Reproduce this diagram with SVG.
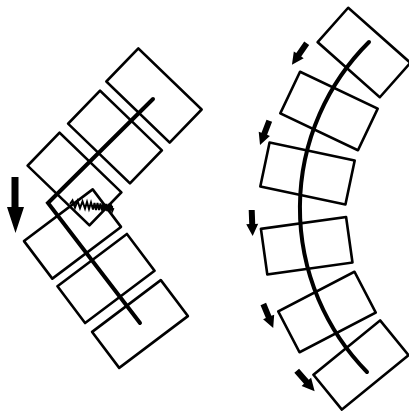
<svg xmlns="http://www.w3.org/2000/svg" width="409" height="412" viewBox="0 0 409 412">
<style>
.box{fill:none;stroke:#000;stroke-width:2.6;stroke-linejoin:round}
.spine{fill:none;stroke:#000;stroke-width:4;stroke-linecap:round;stroke-linejoin:miter}
.spring{fill:none;stroke:#000;stroke-width:2}
.arr{fill:#000}
</style>
<defs>
<polygon id="sarrow" points="0,-3 14,-3 14,-6 26,0 14,6 14,3 0,3"/>
</defs>
<rect width="409" height="412" fill="#fff"/>
<g id="left-column">
<g id="L1"><rect class="box" x="-44" y="-23" width="88" height="46" transform="translate(154,95.5) rotate(44)"/></g>
<g id="L2"><rect class="box" x="-43" y="-23" width="86" height="46" transform="translate(115,137) rotate(44)"/></g>
<g id="L3"><rect class="box" x="-43" y="-23" width="86" height="46" transform="translate(74.5,179) rotate(44)"/></g>
<g id="L4"><rect class="box" x="-43" y="-23.5" width="86" height="47" transform="translate(72.5,234) rotate(-37)"/></g>
<g id="L5"><rect class="box" x="-43.5" y="-23" width="87" height="46" transform="translate(106,278.5) rotate(-37)"/></g>
<g id="L6"><rect class="box" x="-43" y="-22.5" width="86" height="45" transform="translate(140,324) rotate(-37)"/></g>
</g>
<g id="right-column">
<g id="R1"><rect class="box" x="-41.5" y="-23" width="83" height="46" transform="translate(364,52.5) rotate(41.5)"/></g>
<g id="R2"><rect class="box" x="-43" y="-23" width="86" height="46" transform="translate(329,111) rotate(25.4)"/></g>
<g id="R3"><rect class="box" x="-43.5" y="-22.5" width="87" height="45" transform="translate(307.5,173.5) rotate(11.9)"/></g>
<g id="R4"><rect class="box" x="-43" y="-23" width="86" height="46" transform="translate(306.7,245.7) rotate(-8)"/></g>
<g id="R5"><rect class="box" x="-43" y="-23" width="86" height="46" transform="translate(327,312) rotate(-27.5)"/></g>
<g id="R6"><rect class="box" x="-43" y="-22.5" width="86" height="45" transform="translate(361,365) rotate(-39.2)"/></g>
</g>
<g id="connectors">
<polyline class="spine" points="153,99 48,203 140,323"/>
<path class="spine" d="M369,42 A234,234 0 0 0 367,372"/>
<polyline class="spring" points="70,204 72.5,200.5 75,207.5 77.5,201 80,208 82.5,201.5 85,208.5 87,202 89,209 91,202.5 93,209.5 94.5,203 96,210 97.5,203 99,210 100.5,203.5 102,210.5 103.3,203.5 104.6,210.5 105.9,204 107.2,211 108.5,204 109.8,211 111,204.5 112.2,211 113.5,208"/>
<path d="M98,206.5 L113,207.5" stroke="#000" stroke-width="3" fill="none"/>
<polygon class="arr" points="11.5,177 18.5,177 18.5,207 24,207 15.5,233 7,207 11.5,207"/>
<use href="#sarrow" transform="translate(306.7,43.3) rotate(124.6)"/>
<use href="#sarrow" transform="translate(269.3,120.7) rotate(110.9)"/>
<use href="#sarrow" transform="translate(251.7,210) rotate(87.9)"/>
<use href="#sarrow" transform="translate(263.3,304) rotate(67.6)"/>
<use href="#sarrow" transform="translate(296.7,370.7) rotate(48.9) scale(1.05)"/>
</g>
</svg>
